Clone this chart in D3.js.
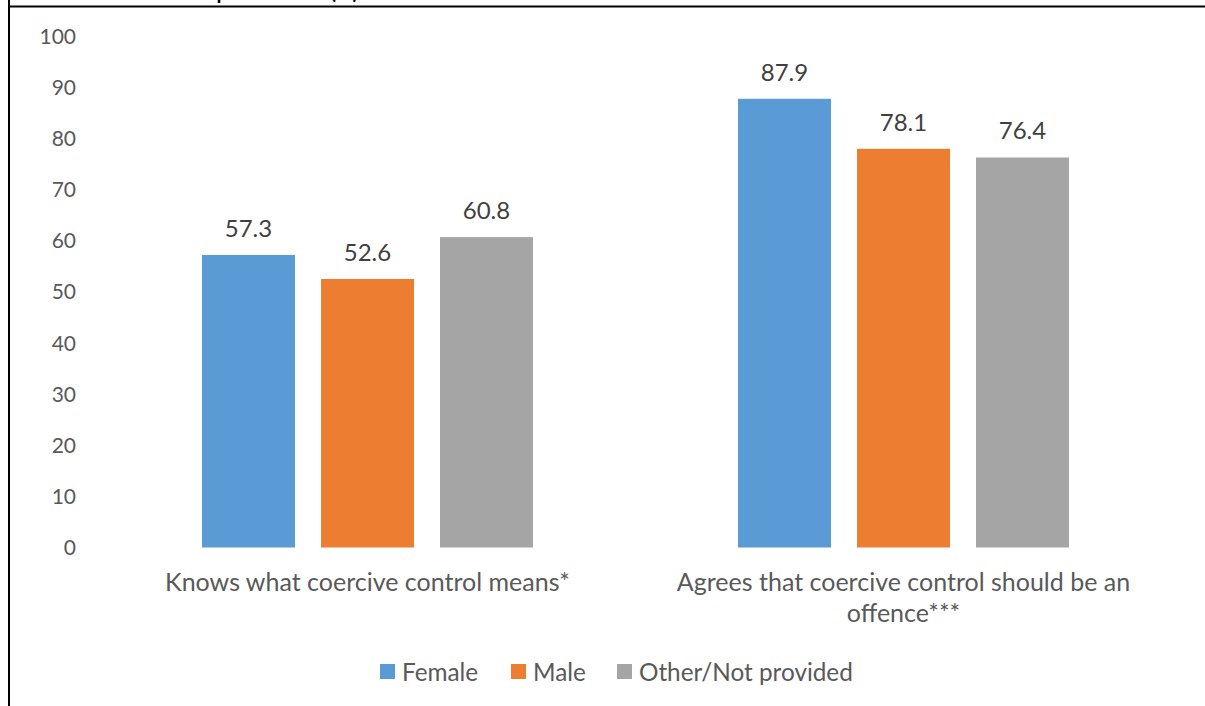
<!DOCTYPE html>
<html>
<head>
<meta charset="utf-8">
<script src="https://cdn.jsdelivr.net/npm/d3@7"></script>
<style>
  html, body { margin: 0; padding: 0; background: #fff; }
  svg { display: block; font-family: Lato, "Open Sans", sans-serif; }
</style>
</head>
<body>
<svg id="chart" width="1205" height="706"></svg>
<script>
// Survey items (x categories)
const categories = [
  "Knows what coercive control means*",
  "Agrees that coercive control should be an offence***"
];
// Respondent groups (series)
const seriesNames = ["Female", "Male", "Other/Not provided"];
// Percentages per series, in category order
const female = [57.3, 87.9];
const male = [52.6, 78.1];
const otherNotProvided = [60.8, 76.4];
const seriesValues = [female, male, otherNotProvided];
// Y-axis ticks
const yTicks = [0, 10, 20, 30, 40, 50, 60, 70, 80, 90, 100];
const titleText = "Coercive control awareness and attitudes: respondent sex (%)";

const colors = ["#5B9BD5", "#ED7D31", "#A5A5A5"];

const svg = d3.select("#chart");

// Frame lines
svg.append("line").attr("x1", 9).attr("x2", 9).attr("y1", 0).attr("y2", 706)
  .attr("stroke", "#000").attr("stroke-width", 2);
svg.append("line").attr("x1", 9).attr("x2", 1205).attr("y1", 6.5).attr("y2", 6.5)
  .attr("stroke", "#000").attr("stroke-width", 2);

// Title sits above the visible area; only its descenders reach the page
svg.append("text")
  .attr("x", 358).attr("y", -1)
  .attr("text-anchor", "end")
  .attr("font-weight", "bold")
  .attr("font-size", 20)
  .attr("fill", "#000")
  .text(titleText);

const y = d3.scaleLinear().domain([0, 100]).range([547.5, 37]);

const x0 = d3.scaleBand().domain(categories).range([99.5, 1171.5]).padding(0);
const x1 = d3.scaleBand().domain(seriesNames).range([0, x0.bandwidth()])
  .paddingInner(26 / 119).paddingOuter(102.5 / 119);

// Y axis (labels only)
const yAxis = d3.axisLeft(y).tickValues(yTicks).tickSize(0).tickPadding(0);
const gy = svg.append("g").attr("transform", "translate(76,0)").call(yAxis);
gy.select(".domain").remove();
gy.selectAll("text")
  .attr("font-family", "Lato, 'Open Sans', sans-serif")
  .attr("font-size", 21)
  .attr("fill", "#595959");

// Bars
const rows = categories.map((c, i) => ({
  category: c,
  values: seriesNames.map((s, j) => ({ series: s, value: seriesValues[j][i], idx: j }))
}));

const groups = svg.append("g").selectAll("g").data(rows).join("g")
  .attr("transform", d => `translate(${x0(d.category)},0)`);

groups.selectAll("rect").data(d => d.values).join("rect")
  .attr("x", d => x1(d.series))
  .attr("y", d => y(d.value))
  .attr("width", x1.bandwidth())
  .attr("height", d => y(0) - y(d.value))
  .attr("fill", d => colors[d.idx]);

groups.selectAll("text.val").data(d => d.values).join("text")
  .attr("class", "val")
  .attr("x", d => x1(d.series) + x1.bandwidth() / 2)
  .attr("y", d => y(d.value) - 18)
  .attr("text-anchor", "middle")
  .attr("font-size", 24)
  .attr("fill", "#404040")
  .text(d => d.value.toFixed(1));

// Category labels with wrapping
const xAxis = d3.axisBottom(x0).tickSize(0).tickPadding(0);
const gx = svg.append("g").attr("transform", "translate(0,547.5)").call(xAxis);
gx.select(".domain").remove();
gx.selectAll("text")
  .attr("font-family", "Lato, 'Open Sans', sans-serif")
  .attr("font-size", 25)
  .attr("fill", "#595959")
  .attr("y", 43)
  .attr("dy", 0)
  .each(function () { wrap(d3.select(this), 490, 31); });

function wrap(text, width, lineHeight) {
  const words = text.text().split(/\s+/);
  const yy = text.attr("y");
  text.text(null);
  let line = [];
  let tspan = text.append("tspan").attr("x", 0).attr("y", yy);
  let lineNo = 0;
  for (const w of words) {
    line.push(w);
    tspan.text(line.join(" "));
    if (tspan.node().getComputedTextLength() > width && line.length > 1) {
      line.pop();
      tspan.text(line.join(" "));
      line = [w];
      lineNo++;
      tspan = text.append("tspan").attr("x", 0).attr("y", +yy + lineNo * lineHeight).text(w);
    }
  }
}

// Legend
const legendX = [380, 511, 617];
const legend = svg.append("g").selectAll("g").data(seriesNames).join("g")
  .attr("transform", (d, i) => `translate(${legendX[i]},664)`);
legend.append("rect").attr("width", 15).attr("height", 15)
  .attr("fill", (d, i) => colors[i]);
legend.append("text").attr("x", 22).attr("y", 8)
  .attr("dy", "0.35em")
  .attr("font-size", 24.3)
  .attr("fill", "#595959")
  .text(d => d);
</script>
</body>
</html>
